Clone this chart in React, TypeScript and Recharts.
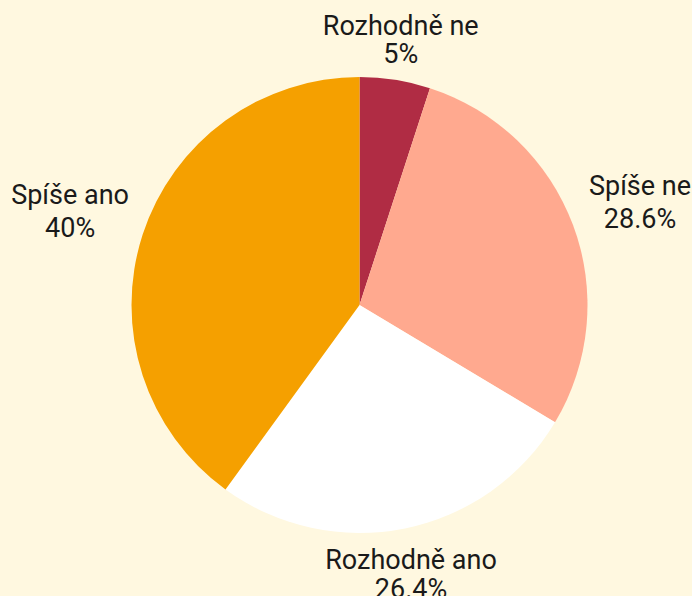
import { PieChart, Pie, Cell } from "recharts";

const categories = ["Rozhodně ne", "Spíše ne", "Rozhodně ano", "Spíše ano"];
const shares = [5, 28.6, 26.4, 40];
const colors = ["#B02C44", "#FFA98F", "#FFFFFF", "#F5A000"];

const data = categories.map((name, i) => ({ name, value: shares[i] }));

const RAD = Math.PI / 180;

function renderLabel(props: any) {
  const { cx, cy, midAngle, outerRadius, index } = props;
  const r = outerRadius + 10;
  const cos = Math.cos(-midAngle * RAD);
  const sin = Math.sin(-midAngle * RAD);
  const x = cx + r * cos;
  const y = cy + r * sin;
  // label block is centred; rough width of the widest line
  const half = (categories[index].length * 12.9) / 2;
  let tx = x + 4;
  if (cos > 0.5) tx = x + 6 + half;
  else if (cos < -0.5) tx = x - 5 - half;
  let b1: number;
  let b2: number;
  if (sin < -0.5) {
    b1 = y - 35;
    b2 = y - 7;
  } else if (sin > 0.5) {
    b1 = y + 31;
    b2 = y + 60;
  } else {
    b1 = y - 27;
    b2 = y + 6;
  }
  return (
    <text
      x={tx}
      y={b1}
      textAnchor="middle"
      fill="#1a1a1a"
      fontSize={27}
      fontFamily="Roboto, sans-serif"
    >
      <tspan x={tx} y={b1}>{categories[index]}</tspan>
      <tspan x={tx} y={b2}>{shares[index] + "%"}</tspan>
    </text>
  );
}

export default function App() {
  return (
    <div
      style={{
        position: "fixed",
        left: 0,
        top: 0,
        width: 692,
        height: 596,
        background: "#FFF8E0",
        overflow: "hidden",
      }}
    >
      <PieChart width={692} height={596} margin={{ top: 0, right: 0, bottom: 0, left: 0 }}>
        <Pie
          data={data}
          dataKey="value"
          nameKey="name"
          cx={359.5}
          cy={305}
          outerRadius={228}
          startAngle={90}
          endAngle={-270}
          stroke="none"
          label={renderLabel}
          labelLine={false}
          isAnimationActive={false}
        >
          {data.map((d, i) => (
            <Cell key={d.name} fill={colors[i]} />
          ))}
        </Pie>
      </PieChart>
    </div>
  );
}
